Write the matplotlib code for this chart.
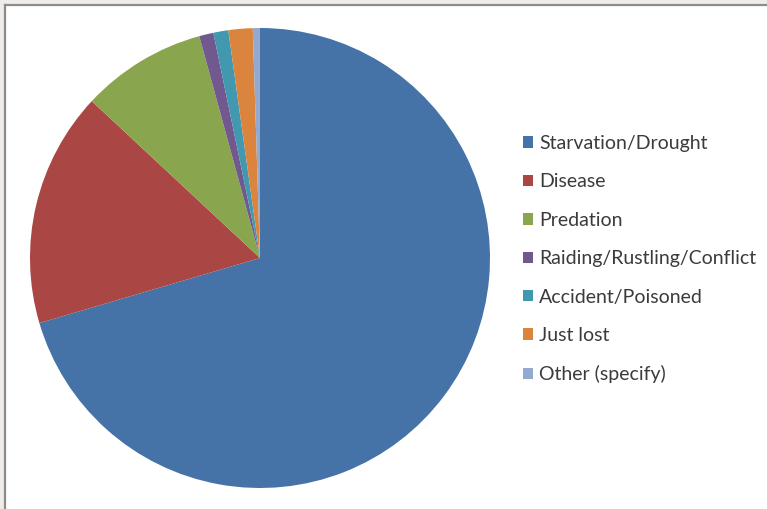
import matplotlib
matplotlib.use("Agg")
import matplotlib.pyplot as plt
from matplotlib.patches import Rectangle
from matplotlib.lines import Line2D

categories = ["Starvation/Drought", "Disease", "Predation", "Raiding/Rustling/Conflict",
              "Accident/Poisoned", "Just lost", "Other (specify)"]
values = [70.4, 16.5, 8.8, 1.0, 1.05, 1.7, 0.5]
colors = ["#4572A7", "#AA4643", "#89A54E", "#71588F", "#4198AF", "#DB843D", "#93A9CF"]

W, H = 767, 509
fig = plt.figure(figsize=(W / 100, H / 100), dpi=100)
fig.patch.set_facecolor("#efece9")

def fx(px):
    return px / W

def fy(py):
    return 1 - py / H

# white chart area with grey top/left border
fig.patches.append(Rectangle((fx(5), 0), 1 - fx(5), fy(5), transform=fig.transFigure,
                             facecolor="white", edgecolor="none", zorder=-5))
fig.lines.append(Line2D([fx(5), fx(5)], [0, fy(5)], transform=fig.transFigure,
                        color="#8c8c8c", linewidth=1.6, zorder=-4))
fig.lines.append(Line2D([fx(5), 1], [fy(5), fy(5)], transform=fig.transFigure,
                        color="#8c8c8c", linewidth=1.6, zorder=-4))

ax = fig.add_axes([fx(30), fy(488), fx(460), 460 / H])
ax.set_zorder(2)
wedges, _ = ax.pie(values, colors=colors, startangle=90, counterclock=False, radius=1,
                   wedgeprops=dict(edgecolor="none", linewidth=0))
ax.set_xlim(-1, 1)
ax.set_ylim(-1, 1)
ax.set_aspect("equal")
ax.axis("off")

plt.rcParams["font.family"] = ["Lato", "DejaVu Sans"]
leg = fig.legend(wedges, categories, loc="upper left",
                 bbox_to_anchor=(fx(523), fy(135)), frameon=False,
                 handlelength=0.52, handleheight=0.52, handletextpad=0.3,
                 labelspacing=1.1, fontsize=14, borderaxespad=0, borderpad=0)
leg.set_zorder(3)
for t in leg.get_texts():
    t.set_color("#3b3b3b")

fig.savefig("out.png", dpi=100, facecolor=fig.get_facecolor())
